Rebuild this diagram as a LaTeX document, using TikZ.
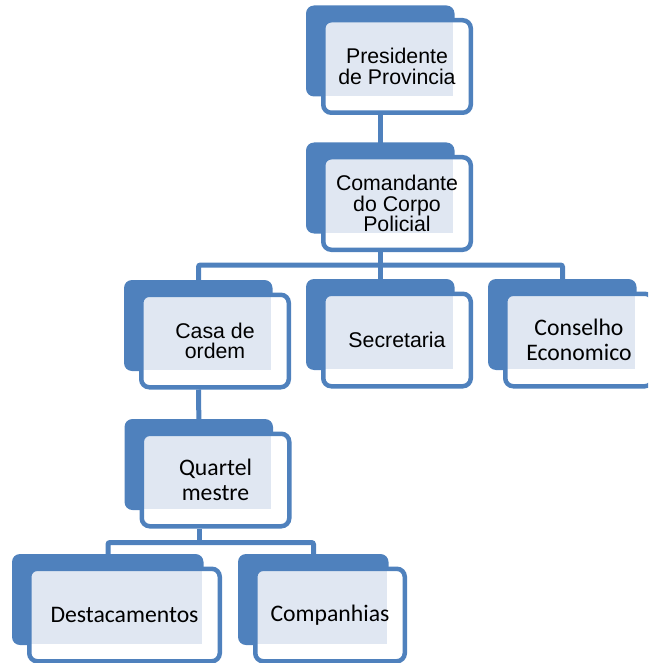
\documentclass[tikz,border=0pt]{standalone}
\usepackage{fontspec}
\setmainfont{Liberation Sans}
\newfontfamily\calibri{Carlito}
\usetikzlibrary{backgrounds}
\definecolor{orgblue}{RGB}{79,129,189}
\definecolor{dotfill}{RGB}{224,231,242}
\tikzset{
  orgbox/.style={draw=orgblue,line width=4.5pt,fill=white,rounded corners=8pt,
    minimum width=147.5pt,minimum height=92.5pt,inner sep=0pt,align=center,
    path picture={\fill[dotfill,sharp corners] (path picture bounding box.north west)
      rectangle ([xshift=-18pt,yshift=17pt]path picture bounding box.south east);}},
  backbox/.style={fill=orgblue,rounded corners=8pt},
  arialtxt/.style={font=\fontsize{21.3}{20.5}\selectfont},
  calibtxt/.style={font=\calibri\fontsize{23.7}{25}\selectfont},
  link/.style={draw=orgblue,line width=5pt,rounded corners=2pt}
}
\begin{document}
\begin{tikzpicture}[x=1pt,y=-1pt]
\useasboundingbox (0,0) rectangle (648,663);
\clip (0,0) rectangle (648,663);
\node[orgbox,arialtxt] (pres) at (397,66.5) {Presidente\\de Provincia};
\node[orgbox,arialtxt] (cmd) at (397,203.5) {Comandante\\do Corpo\\Policial};
\node[orgbox,arialtxt] (casa) at (215,341) {Casa de\\ordem};
\node[orgbox,arialtxt] (secr) at (397,340) {Secretaria};
\node[orgbox,calibtxt] (cons) at (579,340) {Conselho\\Economico};
\node[orgbox,calibtxt] (quart) at (215.5,480) {Quartel\\mestre};
\node[orgbox,calibtxt,minimum width=190.5pt] (dest) at (124.5,615) {Destacamentos};
\node[orgbox,calibtxt,minimum width=149.5pt] (comp) at (330,615) {Companhias};
\begin{pgfonlayer}{background}
% connectors
\draw[link] ([xshift=-16.5pt]pres.south) -- ([xshift=-16.5pt]cmd.north);
\draw[link] ([xshift=-16.5pt]cmd.south) -- ++(0,13) coordinate (split1);
\draw[link] (split1) -| ([xshift=-16.5pt]casa.north);
\draw[link] (split1) -- ([xshift=-16.5pt]secr.north);
\draw[link] (split1) -| ([xshift=-16.5pt]cons.north);
\draw[link] ([xshift=-16.5pt]casa.south) -- ([xshift=-16.5pt]quart.north);
\draw[link] ([xshift=-16.5pt]quart.south) -- ++(0,14) coordinate (split2);
\draw[link] (split2) -| ([xshift=-16.5pt]dest.north);
\draw[link] (split2) -| ([xshift=-16.5pt]comp.north);
% back plates
\foreach \n in {pres,cmd,casa,secr,cons,quart,dest,comp}{
\fill[backbox] ([xshift=-15pt,yshift=12.5pt]\n.north west) rectangle ([xshift=-18.5pt,yshift=18.5pt]\n.south east);
}
\end{pgfonlayer}
\end{tikzpicture}
\end{document}
